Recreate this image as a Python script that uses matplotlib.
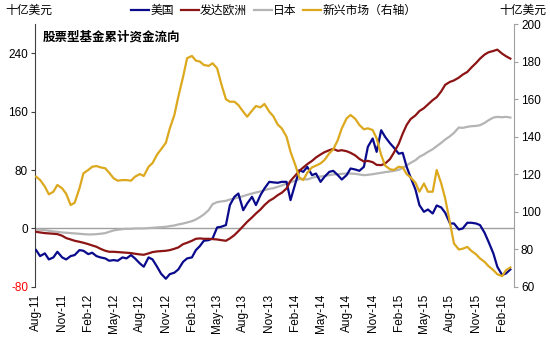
import numpy as np
import pandas as pd
import matplotlib
matplotlib.use('Agg')
import matplotlib.pyplot as plt
import matplotlib.dates as mdates

plt.rcParams['font.family'] = ['Liberation Sans', 'Noto Sans CJK SC']
plt.rcParams['axes.unicode_minus'] = False

# semi-monthly readings, Aug 2011 - Mar 2016
dates = pd.date_range('2011-08-01', periods=111, freq='SMS')

us = [-29.7, -37.9, -34.2, -42.5, -39.7, -32.0, -39.7, -42.5, -37.9, -36.5,
      -29.7, -30.6, -35.2, -33.3, -37.9, -39.7, -41.1, -44.3, -43.4, -44.3,
      -39.7, -41.1, -36.5, -41.1, -47.9, -52.5, -39.7, -42.5, -52.5, -62.0,
      -69.0, -62.6, -60.7, -56.2, -45.7, -41.1, -39.7, -29.7, -24.2, -16.9,
      -16.0, -13.7, 1.4, 2.3, 4.6, 32.0, 43.4, 47.9, 25.0, 34.2,
      43.4, 32.0, 45.7, 54.8, 63.9, 63.2, 62.6, 63.9, 63.9, 38.8,
      61.6, 79.9, 77.6, 84.5, 73.1, 75.3, 63.9, 70.8, 77.6, 79.0,
      73.1, 67.1, 73.1, 82.2, 80.8, 79.0, 84.5, 111.9, 123.3, 105.0,
      134.7, 125.6, 116.9, 110.8, 102.5, 103.7, 84.5, 69.9, 53.4, 32.0,
      22.8, 26.0, 20.5, 31.5, 28.8, 21.5, 6.8, 6.8, -1.4, 0.0,
      7.8, 7.8, 6.8, 4.6, -5.9, -18.3, -34.2, -52.5, -63.9, -61.6,
      -56.2]

europe = [-4.6, -5.5, -6.4, -6.8, -7.3, -7.8, -10.0, -13.2, -15.1, -16.9,
          -18.3, -19.6, -21.5, -23.3, -25.1, -27.9, -30.6, -32.0, -32.0, -32.4,
          -32.9, -33.3, -33.8, -34.7, -35.6, -36.1, -34.2, -32.4, -31.5, -31.1,
          -30.6, -29.7, -27.9, -26.0, -21.5, -19.6, -16.9, -14.2, -13.7, -14.2,
          -14.2, -14.6, -15.1, -16.0, -16.9, -13.7, -9.1, -3.7, 3.2, 9.1,
          15.1, 20.5, 26.0, 32.0, 37.9, 41.0, 45.7, 48.9, 54.8, 65.3,
          72.6, 79.0, 83.6, 88.1, 92.7, 97.3, 101.4, 104.6, 107.3, 109.1,
          106.4, 107.3, 105.9, 103.7, 100.0, 95.4, 91.8, 92.7, 90.9, 87.2,
          86.8, 89.0, 95.0, 104.0, 116.0, 130.0, 142.0, 150.0, 155.0, 161.0,
          165.0, 170.0, 176.0, 180.0, 188.0, 197.0, 201.0, 203.0, 206.8, 211.0,
          214.6, 220.5, 226.9, 232.9, 238.4, 241.6, 243.4, 245.2, 239.7, 236.1,
          232.9]

japan = [-1.4, -1.8, -2.3, -3.2, -4.1, -4.6, -5.5, -5.9, -6.4, -6.8,
         -7.3, -7.8, -8.2, -8.2, -7.8, -7.3, -6.4, -4.6, -2.7, -1.8,
         -0.9, -0.5, -0.5, 0.0, 0.0, 0.0, 0.5, 0.9, 1.4, 1.8,
         2.3, 3.2, 4.1, 5.5, 6.8, 8.2, 10.0, 12.3, 15.5, 19.2,
         25.1, 33.3, 36.1, 37.0, 37.9, 39.7, 41.1, 42.5, 44.3, 46.1,
         47.9, 49.3, 50.7, 52.5, 54.3, 55.2, 57.1, 58.9, 61.6, 63.5,
         65.3, 67.6, 68.0, 67.1, 69.4, 70.8, 71.2, 72.1, 73.1, 74.0,
         74.4, 74.9, 75.3, 75.3, 74.9, 74.0, 73.1, 73.5, 74.4, 75.3,
         76.3, 77.2, 78.1, 79.0, 80.3, 83.1, 86.3, 90.0, 93.6, 98.2,
         101.4, 105.0, 108.7, 112.8, 117.4, 121.9, 126.5, 131.1, 138.4, 137.9,
         139.3, 140.2, 140.6, 141.6, 144.7, 148.4, 152.1, 153.0, 152.5, 153.0,
         152.1]

em = [118.7, 117.0, 113.4, 109.3, 110.7, 114.3, 112.5, 109.6, 103.6, 104.8,
      112.5, 120.5, 122.3, 124.0, 124.4, 123.7, 123.2, 120.8, 117.8, 116.6,
      116.9, 116.9, 116.6, 118.7, 120.1, 119.1, 124.0, 126.0, 130.5, 133.3,
      136.8, 144.5, 151.6, 161.4, 172.1, 181.9, 183.1, 180.6, 180.1, 178.3,
      177.8, 179.2, 176.5, 168.5, 160.0, 158.7, 158.7, 156.9, 153.4, 150.7,
      153.9, 156.4, 155.7, 157.5, 153.4, 151.0, 146.5, 144.5, 140.0, 132.0,
      124.9, 118.3, 116.9, 120.8, 123.7, 124.6, 125.8, 127.6, 131.2, 133.3,
      138.3, 144.5, 149.8, 151.6, 149.5, 146.3, 144.0, 144.5, 143.6, 139.2,
      130.3, 124.6, 122.7, 122.3, 124.0, 123.7, 120.1, 118.3, 115.5, 110.7,
      115.1, 110.7, 110.7, 122.3, 115.1, 107.1, 94.0, 83.1, 79.9, 80.3,
      81.3, 79.2, 77.3, 75.1, 73.3, 71.0, 68.9, 66.7, 65.7, 68.9,
      70.3]

names = ['美国', '发达欧洲', '日本', '新兴市场（右轴）']
colors = ['#0A0A8C', '#8C1414', '#B4B4B4', '#DCA81E']

fig = plt.figure(figsize=(5.5, 3.37), dpi=100)
ax = fig.add_axes([0.0636, 0.149, 0.871, 0.779])
ax2 = ax.twinx()

ax.axhline(0, color='#A0A0A0', lw=1.0, zorder=1)
l1, = ax.plot(dates, us, color=colors[0], lw=1.6, zorder=3)
l2, = ax.plot(dates, europe, color=colors[1], lw=1.6, zorder=3)
l3, = ax.plot(dates, japan, color=colors[2], lw=1.6, zorder=2)
l4, = ax2.plot(dates, em, color=colors[3], lw=1.6)

ax.set_xlim(pd.Timestamp('2011-07-28'), pd.Timestamp('2016-03-14'))
ax.set_ylim(-80, 280)
ax2.set_ylim(60, 200)

left_ticks = [-80, 0, 80, 160, 240]
ax.set_yticks(left_ticks)
ax.set_yticklabels([str(t) for t in left_ticks])
ax.get_yticklabels()[0].set_color('red')
right_ticks = [60, 80, 100, 120, 140, 160, 180, 200]
ax2.set_yticks(right_ticks)
ax2.set_yticklabels([str(t) for t in right_ticks])

xt = pd.date_range('2011-08-01', '2016-02-01', freq='3MS')
ax.set_xticks(xt)
ax.set_xticklabels([d.strftime('%b-%y') for d in xt], rotation=90)

for a in (ax, ax2):
    a.spines['top'].set_visible(False)
    a.spines['bottom'].set_visible(False)
ax.spines['right'].set_visible(False)
ax2.spines['left'].set_visible(False)
ax.spines['left'].set_color('#404040')
ax2.spines['right'].set_color('#A0A0A0')

ax.tick_params(axis='x', length=0, pad=5, labelsize=8.5)
ax.tick_params(axis='y', length=3, width=0.8, color='#404040', pad=2, labelsize=8.5)
ax2.tick_params(axis='y', length=3, width=0.8, color='#A0A0A0', pad=2, labelsize=8.5)

ax.text(0.015, 0.95, '股票型基金累计资金流向', transform=ax.transAxes,
        fontsize=9, fontweight='bold', va='center', ha='left')

fig.text(5 / 550, 1 - 11 / 337, '十亿美元', fontsize=8.5, va='center', ha='left')
fig.text(546 / 550, 1 - 11 / 337, '十亿美元', fontsize=8.5, va='center', ha='right')

fig.legend([l1, l2, l3, l4], names, loc='center', bbox_to_anchor=(0.498, 1 - 11 / 337),
           ncol=4, frameon=False, fontsize=8.5, handlelength=1.5,
           handletextpad=0.1, columnspacing=0.6, borderpad=0)

fig.savefig('out.png', dpi=100)
